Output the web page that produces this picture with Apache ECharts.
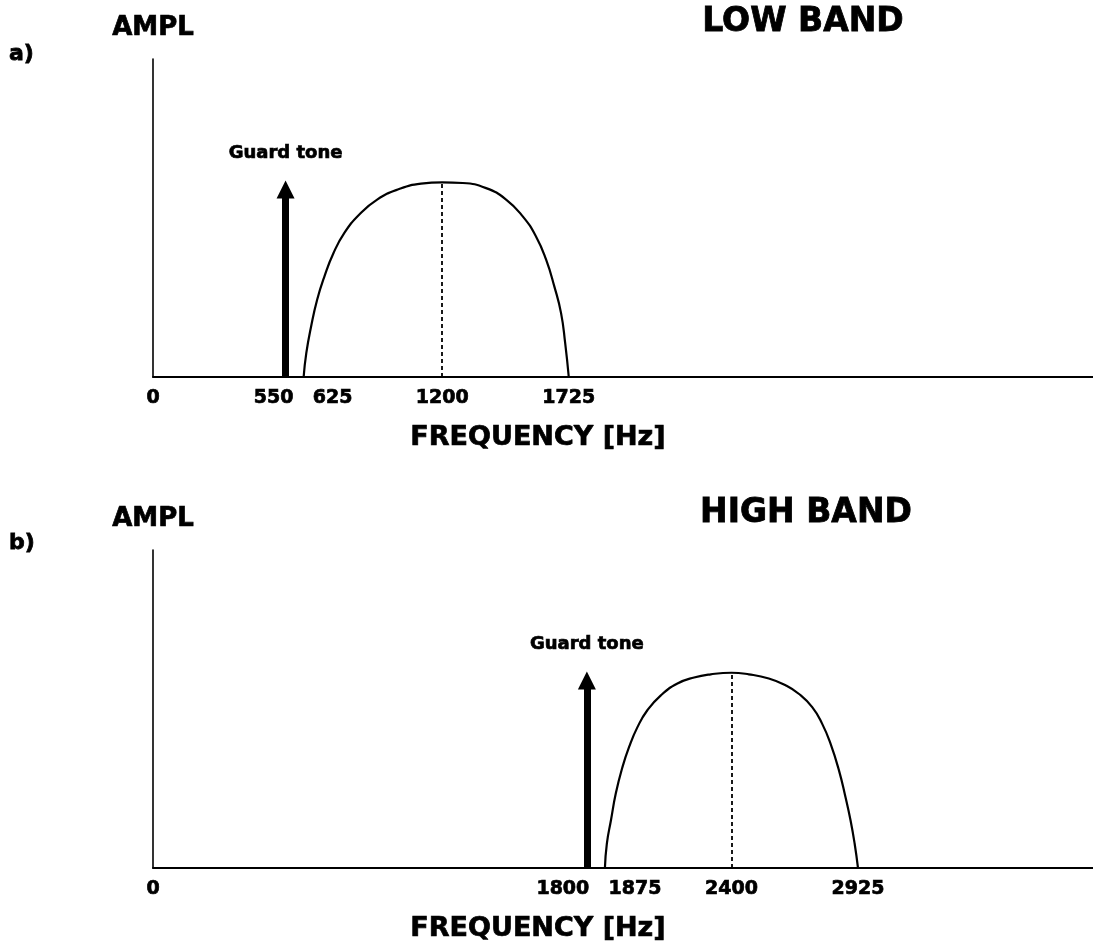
<!DOCTYPE html>
<html>
<head>
<meta charset="utf-8">
<title>Low band / High band spectra</title>
<script src="https://cdn.jsdelivr.net/npm/echarts@6/dist/echarts.min.js"></script>
<style>
  html, body { margin: 0; padding: 0; background: #fff; }
  #chart { width: 1093px; height: 947px; }
</style>
</head>
<body>
<div id="chart"></div>
<script>
// ---- data ----------------------------------------------------------------
// Frequency axis tick labels [Hz]
const lowTicks = [0, 550, 625, 1200, 1725];
const highTicks = [0, 1800, 1875, 2400, 2925];

// Guard tone frequencies [Hz] and arrow height (relative amplitude)
const lowGuardTone = 550;
const highGuardTone = 1800;
const guardToneAmp = 0.59;

// Band centre frequencies [Hz]
const lowCenter = 1200;
const highCenter = 2400;

// Band spectrum envelopes: [frequency Hz, relative amplitude]
const lowBandCurve = [
  [625, 0], [636, 0.075], [656, 0.159], [681, 0.243], [711, 0.316],
  [749, 0.390], [794, 0.453], [855, 0.510], [930, 0.558], [1021, 0.591],
  [1112, 0.608], [1200, 0.612], [1285, 0.610], [1382, 0.594], [1465, 0.558],
  [1534, 0.505], [1589, 0.442], [1631, 0.369], [1665, 0.285], [1693, 0.201],
  [1710, 0.107], [1725, 0]
];
const highBandCurve = [
  [1875, 0], [1883, 0.077], [1900, 0.150], [1920, 0.234], [1948, 0.318],
  [1975, 0.380], [2010, 0.443], [2051, 0.496], [2107, 0.543], [2176, 0.580],
  [2245, 0.599], [2314, 0.609], [2400, 0.614], [2472, 0.609], [2555, 0.596],
  [2624, 0.575], [2679, 0.548], [2735, 0.506], [2776, 0.454], [2811, 0.391],
  [2846, 0.307], [2873, 0.223], [2894, 0.150], [2911, 0.077], [2925, 0]
];

// ---- styling helpers -------------------------------------------------------
const FONT = '"DejaVu Sans", "Liberation Sans", Arial, sans-serif';
const INK = '#000';
// thin outline to give the lettering a heavier, poster-like weight
const HEAVY = { textBorderColor: INK, textBorderWidth: 0.7 };

// Horizontal nudge (px) of crowded tick labels so neighbours do not collide
const labelNudge = { 550: -12, 625: 29, 1800: -24, 1875: 30 };

function tickRich() {
  const rich = {};
  Object.keys(labelNudge).forEach(function (k) {
    const n = labelNudge[k];
    rich['t' + k] = Object.assign({
      fontFamily: FONT, fontWeight: 'bold', fontSize: 19, color: INK,
      padding: n < 0 ? [0, -2 * n, 0, 0] : [0, 0, 0, 2 * n]
    }, HEAVY);
  });
  return rich;
}

function peakOf(curve, f) {
  const p = curve.find(function (d) { return d[0] === f; });
  return p ? p[1] : 0;
}

function xAxisFor(gridIndex, ticks) {
  return {
    type: 'value', gridIndex: gridIndex, min: 0, max: 3900,
    name: 'FREQUENCY [Hz]', nameLocation: 'middle', nameGap: 47,
    nameTextStyle: Object.assign({
      fontFamily: FONT, fontWeight: 'bold', fontSize: 27, color: INK,
      padding: [0, 170, 0, 0]
    }, HEAVY),
    axisLine: { show: true, onZero: false, lineStyle: { color: INK, width: 2 } },
    axisTick: { show: false },
    splitLine: { show: false },
    axisLabel: Object.assign({
      customValues: ticks, margin: 12, showMinLabel: true, showMaxLabel: true,
      fontFamily: FONT, fontWeight: 'bold', fontSize: 19, color: INK,
      formatter: function (v) {
        return labelNudge[v] !== undefined ? '{t' + v + '|' + v + '}' : String(v);
      },
      rich: tickRich()
    }, HEAVY)
  };
}

function yAxisFor(gridIndex) {
  return {
    type: 'value', gridIndex: gridIndex, min: 0, max: 1,
    name: 'AMPL', nameLocation: 'end', nameGap: 18,
    nameTextStyle: Object.assign({ fontFamily: FONT, fontWeight: 'bold', fontSize: 26, color: INK }, HEAVY),
    axisLine: { show: true, lineStyle: { color: INK, width: 1.6 } },
    axisTick: { show: false },
    axisLabel: { show: false },
    splitLine: { show: false }
  };
}

function bandSeries(idx, curve, center) {
  return {
    type: 'line', xAxisIndex: idx, yAxisIndex: idx,
    data: curve, smooth: 0.5, showSymbol: false, silent: true,
    lineStyle: { color: INK, width: 2.2 },
    markLine: {
      silent: true, symbol: ['none', 'none'], label: { show: false },
      lineStyle: { color: INK, width: 1.8, type: [4, 3] },
      data: [[{ coord: [center, 0] }, { coord: [center, peakOf(curve, center)] }]]
    }
  };
}

function guardSeries(idx, freq) {
  return {
    type: 'line', xAxisIndex: idx, yAxisIndex: idx, data: [], silent: true,
    markLine: {
      silent: true, symbol: ['none', 'triangle'], symbolSize: 18,
      lineStyle: { color: INK, width: 7, type: 'solid' },
      itemStyle: { color: INK },
      label: Object.assign({
        show: true, position: 'end', distance: 27, formatter: 'Guard tone',
        fontFamily: FONT, fontWeight: 'bold', fontSize: 18, color: INK
      }, HEAVY),
      data: [[{ coord: [freq, 0] }, { coord: [freq, guardToneAmp] }]]
    }
  };
}

function text(str, x, y, size, align) {
  return {
    type: 'text', x: x, y: y, silent: true,
    style: {
      text: str, fill: INK, align: align || 'center', verticalAlign: 'middle',
      font: 'bold ' + size + 'px ' + FONT, stroke: INK, lineWidth: 0.8
    }
  };
}

// ---- chart -----------------------------------------------------------------
const chart = echarts.init(document.getElementById('chart'), null, { renderer: 'canvas' });
chart.setOption({
  animation: false,
  backgroundColor: '#fff',
  grid: [
    { left: 153, top: 59, width: 942, height: 318 },
    { left: 153, top: 550, width: 942, height: 318 }
  ],
  xAxis: [xAxisFor(0, lowTicks), xAxisFor(1, highTicks)],
  yAxis: [yAxisFor(0), yAxisFor(1)],
  series: [
    bandSeries(0, lowBandCurve, lowCenter),
    guardSeries(0, lowGuardTone),
    bandSeries(1, highBandCurve, highCenter),
    guardSeries(1, highGuardTone)
  ],
  graphic: [
    text('a)', 9, 54, 22, 'left'),
    text('b)', 9, 543, 22, 'left'),
    text('LOW BAND', 803, 22, 33),
    text('HIGH BAND', 806, 513, 33)
  ]
});
</script>
</body>
</html>
